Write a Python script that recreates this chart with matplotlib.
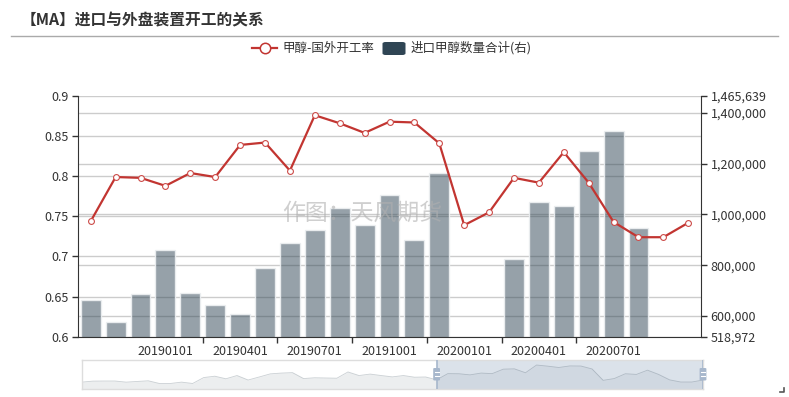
import numpy as np
import matplotlib
matplotlib.use('Agg')
import matplotlib.pyplot as plt
import matplotlib.transforms as mtransforms
from matplotlib.patches import FancyBboxPatch
from matplotlib.lines import Line2D

plt.rcParams['font.family'] = ['Noto Sans CJK SC', 'DejaVu Sans']

# ---------------- data ----------------
dates = ['20181001', '20181101', '20181201', '20190101', '20190201', '20190301',
         '20190401', '20190501', '20190601', '20190701', '20190801', '20190901',
         '20191001', '20191101', '20191201', '20200101', '20200201', '20200301',
         '20200401', '20200501', '20200601', '20200701', '20200801', '20200901',
         '20201001']
rate = [0.744, 0.799, 0.798, 0.788, 0.804, 0.799, 0.839, 0.842, 0.807, 0.876,
        0.866, 0.854, 0.868, 0.867, 0.841, 0.739, 0.755, 0.798, 0.792, 0.830,
        0.792, 0.743, 0.724, 0.724, 0.742]
imports = [663000, 577000, 687000, 859000, 691000, 645000, 607000, 789000,
           887000, 937000, 1026000, 959000, 1077000, 900000, 1164000, np.nan,
           np.nan, 826000, 1049000, 1032000, 1249000, 1329000, 945000, np.nan,
           np.nan]
# earlier history of the rate series (only visible in the zoom slider)
rate_hist = [0.723, 0.732, 0.733, 0.733, 0.723, 0.729, 0.735, 0.711, 0.711, 0.723,
             0.711, 0.764, 0.776, 0.753, 0.782, 0.742, 0.769, 0.797, 0.804, 0.808,
             0.755, 0.762, 0.760, 0.758, 0.814, 0.782, 0.795, 0.782, 0.770, 0.782,
             0.767, 0.769]
left_ticks = [0.6, 0.65, 0.7, 0.75, 0.8, 0.85, 0.9]
right_min, right_max = 518972, 1465639
right_ticks = [600000, 800000, 1000000, 1200000, 1400000]
label_idx = [3, 6, 9, 12, 15, 18, 21]
title = '【MA】进口与外盘装置开工的关系'
legend_line = '甲醇-国外开工率'
legend_bar = '进口甲醇数量合计(右)'
watermark = '作图：天风期货'

# ---------------- figure ----------------
W, H = 789, 397
fig = plt.figure(figsize=(W / 100, H / 100), dpi=100)
fig.patch.set_facecolor('white')


def fx(px):
    return px / W


def fy(py):
    return 1 - py / H


RED = '#c23531'
DARK = (47 / 255, 69 / 255, 84 / 255)
TXT = '#333333'
GRID = '#cccccc'

ax = fig.add_axes([fx(78.3), fy(336.7), 622.4 / W, 240.7 / H])
ax2 = ax.twinx()
ax.set_zorder(ax2.get_zorder() + 1)
ax.patch.set_visible(False)

x = np.arange(len(dates))
ax.set_xlim(-0.5, len(dates) - 0.5)
ax.set_ylim(left_ticks[0], left_ticks[-1])
ax2.set_ylim(right_min, right_max)

# grid lines (beneath bars)
blend = mtransforms.blended_transform_factory(ax2.transAxes, ax.transData)
for v in left_ticks:
    ax2.plot([0, 1], [v, v], transform=blend, color=GRID, lw=1, zorder=0.5)
for v in right_ticks:
    ax2.axhline(v, color=GRID, lw=1, zorder=0.5)

ax2.bar(x, imports, width=0.8, color=DARK + (0.5,), edgecolor=(0.93, 0.94, 0.95, 0.9),
        linewidth=1, zorder=2)

ax.plot(x, rate, color=RED, lw=1.6, marker='o', ms=4.2, mfc='white', mec='#cc4b48',
        mew=0.8, zorder=3, clip_on=False)

for s in ['top', 'right']:
    ax.spines[s].set_visible(False)
for s in ['top', 'left', 'bottom']:
    ax2.spines[s].set_visible(False)
ax.spines['left'].set_color(TXT)
ax.spines['bottom'].set_color(TXT)
ax2.spines['right'].set_color(TXT)

ax.set_yticks(left_ticks)
ax.set_yticklabels([('%g' % v) for v in left_ticks])
ax.tick_params(axis='y', length=4, width=1, color=TXT, labelcolor=TXT, labelsize=9, pad=3)

rt = [right_min] + right_ticks + [right_max]
ax2.set_yticks(rt)
ax2.set_yticklabels(['{:,}'.format(v) for v in rt])
ax2.tick_params(axis='y', length=4, width=1, color=TXT, labelcolor=TXT, labelsize=9, pad=3)

ax.set_xticks([i + 1.5 for i in label_idx[:-1]])
ax.set_xticklabels([])
ax.set_xticks(label_idx, minor=True)
ax.set_xticklabels([dates[i] for i in label_idx], minor=True)
ax.tick_params(axis='x', which='major', length=4, width=1, color=TXT)
ax.tick_params(axis='x', which='minor', length=0, labelsize=9, labelcolor=TXT, pad=6)

# ---------------- title / legend ----------------
fig.text(fx(21), fy(20), title, fontsize=11.3, fontweight='bold', color=TXT,
         ha='left', va='center')
fig.add_artist(Line2D([fx(11), fx(778)], [fy(35.5), fy(35.5)], color='#aaaaaa', lw=1))

fig.add_artist(Line2D([fx(252), fx(277)], [fy(48), fy(48)], color=RED, lw=1.6))
fig.add_artist(Line2D([fx(264.5)], [fy(48)], marker='o', ms=7.5, mfc='white', mec=RED,
                      mew=1.1, color=RED))
fig.text(fx(282), fy(48), legend_line, fontsize=9, color=TXT, ha='left', va='center')
fig.add_artist(FancyBboxPatch((fx(382.5), fy(55)), 23 / W, 13 / H,
                              boxstyle='round,pad=0,rounding_size=0.004',
                              transform=fig.transFigure, facecolor=DARK, edgecolor='none'))
fig.text(fx(411), fy(48), legend_bar, fontsize=9, color=TXT, ha='left', va='center')

fig.text(fx(362), fy(213), watermark, fontsize=16.5, color='#b0b0b0', alpha=0.6,
         ha='center', va='center', zorder=10)

# ---------------- zoom slider ----------------
full = rate_hist + rate
n = len(full)
sl = fig.add_axes([fx(81.7), fy(389), 621.3 / W, 29.5 / H])
lo, hi = min(full), max(full)
pad = (hi - lo) * 0.3
sl.set_xlim(0, n - 1)
sl.set_ylim(lo - pad, hi + pad)
idx = np.arange(n)
sl.fill_between(idx, full, lo - pad, color=DARK + (0.09,), lw=0)
sl.plot(idx, full, color=DARK + (0.25,), lw=0.6)
start = len(rate_hist)
sl.axvspan(start, n - 1, color=(167 / 255, 183 / 255, 204 / 255, 0.4), lw=0)
sl.set_xticks([])
sl.set_yticks([])
for s in sl.spines.values():
    s.set_color('#dddddd')
    s.set_linewidth(1)
for xi in [start, n - 1]:
    sl.axvline(xi, color='#a7b7cc', lw=1.2, zorder=4)
for hx in [436.6, 703.0]:
    fig.add_artist(FancyBboxPatch((fx(hx - 3.4), fy(380.5)), 6.8 / W, 12.5 / H,
                                  boxstyle='round,pad=0,rounding_size=0.002',
                                  transform=fig.transFigure, facecolor='#a7b7cc',
                                  edgecolor='none', zorder=5))
    for yy in [372, 376]:
        fig.add_artist(Line2D([fx(hx - 2), fx(hx + 2)], [fy(yy), fy(yy)], color='white',
                              lw=0.8, zorder=6))

# corner mark
fig.add_artist(Line2D([fx(780), fx(784), fx(784)], [fy(392), fy(392), fy(388)],
                      color='#555555', lw=1.2))

fig.savefig('out.png', dpi=100, facecolor='white')
